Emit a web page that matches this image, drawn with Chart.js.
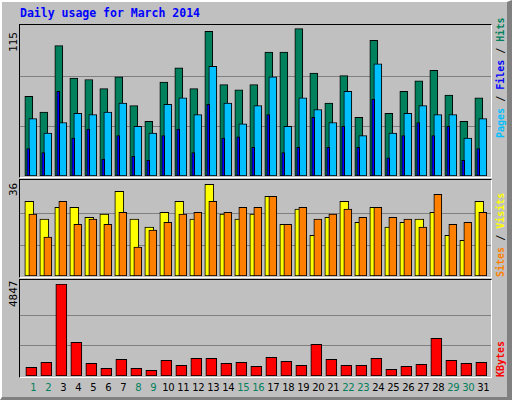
<!DOCTYPE html>
<html><head><meta charset="utf-8">
<script src="https://cdn.jsdelivr.net/npm/chart.js@4"></script>
<style>
body{margin:0;background:#C0C0C0;}
#frame{position:absolute;left:0;top:0;width:505px;height:395px;background:#C0C0C0;border-left:2px solid #fff;border-top:2px solid #fff;border-right:5px solid #808080;border-bottom:3px solid #808080;box-sizing:content-box;}
.abs{position:absolute;}
.panel{position:absolute;border-top:1px solid #000;border-left:1px solid #000;border-right:1px solid #fff;border-bottom:1px solid #fff;box-sizing:border-box;}
.rot{position:absolute;transform-origin:0 0;transform:rotate(-90deg);white-space:pre;font-family:"DejaVu Sans Mono",monospace;line-height:12px;}
.xl{position:absolute;font-family:"DejaVu Sans",sans-serif;font-size:10px;letter-spacing:-0.3px;transform:translateX(-50%);top:382px;}
canvas{position:absolute;}
</style></head>
<body>
<div id="frame"></div>
<div class="abs" style="left:20px;top:6px;font-family:'DejaVu Sans Mono',monospace;font-weight:bold;font-size:11.5px;color:#0000FF;">Daily usage for March 2014</div>
<div class="panel" style="left:19px;top:24px;width:473px;height:154px;"></div>
<div class="panel" style="left:19px;top:179px;width:473px;height:99px;"></div>
<div class="panel" style="left:19px;top:279px;width:473px;height:99px;"></div>
<div class="rot" style="left:8px;top:52px;font-size:11px;">115</div>
<div class="rot" style="left:8px;top:196px;font-size:11px;">36</div>
<div class="rot" style="left:8px;top:307px;font-size:11px;">4847</div>
<div class="rot" style="left:495px;top:138px;font-size:10px;font-weight:bold;"><span style="color:#00C0FF">Pages</span> / <span style="color:#0000FF">Files</span> / <span style="color:#00805C">Hits</span></div>
<div class="rot" style="left:495px;top:277px;font-size:10px;font-weight:bold;"><span style="color:#FF8000">Sites</span> / <span style="color:#FFFF00">Visits</span></div>
<div class="rot" style="left:495px;top:377px;font-size:10px;font-weight:bold;color:#FF0000">KBytes</div>
<canvas id="c1" style="left:20px;top:26px;width:471px;height:150px;" width="471" height="150"></canvas>
<canvas id="c2" style="left:20px;top:182px;width:471px;height:94px;" width="471" height="94"></canvas>
<canvas id="c3" style="left:20px;top:284px;width:471px;height:92px;" width="471" height="92"></canvas>
<script>
const days = [1,2,3,4,5,6,7,8,9,10,11,12,13,14,15,16,17,18,19,20,21,22,23,24,25,26,27,28,29,30,31];
const weekend = [1,2,8,9,15,16,22,23,29,30];
const hits  = [61,49,100,75,74,67,76,54,42,72,83,67,111,70,66,70,95,95,113,79,56,77,45,104,48,65,73,81,62,42,60];
const pages = [44,33,41,48,47,49,56,38,33,55,60,47,84,56,40,54,76,38,60,51,41,65,31,86,33,48,54,47,47,29,44];
const files = [21,18,65,29,36,13,31,15,12,31,36,18,55,29,30,22,47,18,22,45,22,38,22,59,14,31,41,31,38,12,21];
const visits= [28.6,21.8,26.3,26.3,22.5,23.7,32.4,21.8,18.7,24.4,28.6,21.8,35.1,23.7,21.8,23.7,30.5,19.8,25.6,15.6,22.5,28.6,20.6,26.3,18.7,20.6,21.8,24.4,15.6,13.7,28.6];
const sites = [23.7,14.9,28.6,19.8,21.8,19.8,24.4,11.1,17.6,20.6,23.7,24.4,28.6,24.4,26.3,26.3,30.5,19.8,26.3,21.8,23.7,25.6,22.5,26.3,22.5,21.8,18.7,31.3,19.8,20.6,24.4];
const kbytes= [458,722,4847,1776,669,406,880,406,300,827,564,933,933,669,722,511,985,775,564,1671,880,564,564,933,353,511,617,1987,827,669,722];
const maxTop=115, maxMid=36, maxBot=4847;

const grid = {id:'grid',beforeDatasetsDraw(ch){const y=ch.scales.y,c=ch.ctx,m=y.max;c.save();c.strokeStyle='#808080';c.lineWidth=1;
 [m/3,2*m/3].forEach(v=>{const p=Math.round(y.getPixelForValue(v))+0.5;c.beginPath();c.moveTo(0,p);c.lineTo(ch.width,p);c.stroke();});c.restore();}};
function pts(arr,off){return arr.map((v,i)=>({x:days[i]+off,y:v}));}
function ds(arr,off,color,w,order){return {data:pts(arr,off),backgroundColor:color,borderColor:'#000',borderWidth:1,barThickness:w,order:order,grouped:false,borderSkipped:false};}
function opts(max){return {responsive:false,animation:false,events:[],layout:{padding:0},
 plugins:{legend:{display:false},tooltip:{enabled:false}},
 scales:{x:{type:'linear',offset:false,min:0.413,max:31.813,display:false},y:{min:0,max:max,display:false}}};}

new Chart(document.getElementById('c1'),{type:'bar',data:{datasets:[
 ds(hits,0,'#00805C',8,3), ds(pages,0.267,'#00C0FF',8,2), ds(files,-0.04,'#0000FF',3,1)]},options:opts(maxTop),plugins:[grid]});
new Chart(document.getElementById('c2'),{type:'bar',data:{datasets:[
 ds(visits,0.033,'#FFFF00',9,2), ds(sites,0.267,'#FF8000',8,1)]},options:opts(maxMid),plugins:[grid]});
const c3=new Chart(document.getElementById('c3'),{type:'bar',data:{datasets:[
 ds(kbytes,0.167,'#FF0000',11,1)]},options:opts(maxBot),plugins:[grid]});
days.forEach(d=>{const s=document.createElement('div');s.className='xl';s.textContent=String(d);
 s.style.left=(20+c3.scales.x.getPixelForValue(d+0.3))+'px';
 s.style.color=weekend.includes(d)?'#00805C':'#000';document.body.appendChild(s);});
</script>
</body></html>
